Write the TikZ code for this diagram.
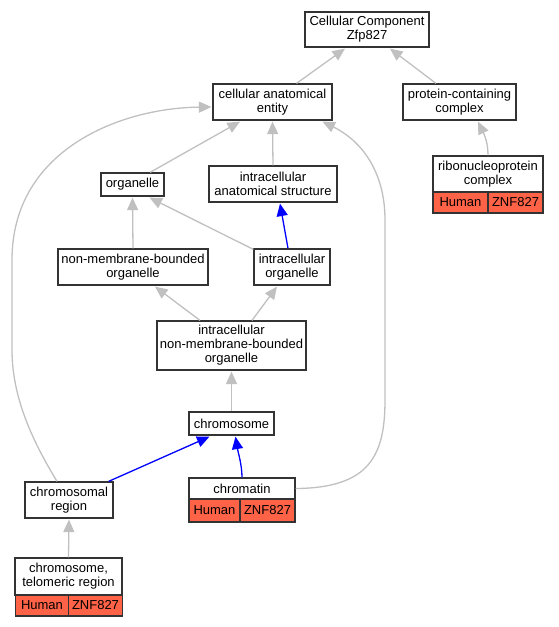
\documentclass[tikz,border=0pt]{standalone}
\usepackage{fontspec}
\setmainfont{Liberation Sans}
\usetikzlibrary{arrows.meta,calc}
\definecolor{tomato}{HTML}{FF6347}
\definecolor{edgegray}{HTML}{C0C0C0}
\definecolor{boxline}{HTML}{333333}
\tikzset{
  box/.style={draw=boxline, line width=1.2pt, fill=white, inner sep=0pt, align=center,
    font=\fontsize{13}{14}\selectfont, anchor=center},
  redcell/.style={box, fill=tomato},
  ge/.style={draw=edgegray, line width=1.3pt, -{Triangle[length=12.5pt,width=11pt]}},
  be/.style={draw=blue, line width=1.3pt, -{Triangle[length=12.5pt,width=11pt]}},
}
\begin{document}
\begin{tikzpicture}[x=1pt,y=-1pt]
\useasboundingbox (0,0) rectangle (559,627);
% nodes
\node[box, minimum width=124pt, minimum height=35pt] (cc) at (367,29.5) {Cellular Component\\Zfp827};
\node[box, minimum width=119pt, minimum height=36pt] (cae) at (272.5,102) {cellular anatomical\\entity};
\node[box, minimum width=113pt, minimum height=36pt] (pcc) at (459.5,102) {protein-containing\\complex};
\node[box, minimum width=110pt, minimum height=36pt] (rnp) at (488,174) {ribonucleoprotein\\complex};
\node[redcell, minimum width=55pt, minimum height=21pt] (rnph) at (460.5,202.5) {Human};
\node[redcell, minimum width=55pt, minimum height=21pt] (rnpz) at (515.5,202.5) {ZNF827};
\node[box, minimum width=63pt, minimum height=23pt] (org) at (132.5,184.5) {organelle};
\node[box, minimum width=128pt, minimum height=36pt] (ias) at (273,184) {intracellular\\anatomical structure};
\node[box, minimum width=150pt, minimum height=36pt] (nmbo) at (133,267) {non-membrane-bounded\\organelle};
\node[box, minimum width=76pt, minimum height=36pt] (io) at (292,267) {intracellular\\organelle};
\node[box, minimum width=149pt, minimum height=49pt] (inmbo) at (231.5,345.5) {intracellular\\non-membrane-bounded\\organelle};
\node[box, minimum width=85pt, minimum height=23pt] (chr) at (231.5,423.5) {chromosome};
\node[box, minimum width=88pt, minimum height=36pt] (chrr) at (69,500) {chromosomal\\region};
\node[box, minimum width=106pt, minimum height=21pt] (chrt) at (242,488.5) {chromatin};
\node[redcell, minimum width=51pt, minimum height=23pt] (chrth) at (214.5,510.5) {Human};
\node[redcell, minimum width=55pt, minimum height=23pt] (chrtz) at (267.5,510.5) {ZNF827};
\node[box, minimum width=107pt, minimum height=37pt] (tel) at (68.5,576.5) {chromosome,\\telomeric region};
\node[redcell, minimum width=53pt, minimum height=21pt] (telh) at (42,605.5) {Human};
\node[redcell, minimum width=54pt, minimum height=21pt] (telz) at (95.5,605.5) {ZNF827};
% edges
\draw[ge] ($(cae.north)+(24,0)$) -- ($(cc.south)+(-22,1)$);
\draw[ge] ($(pcc.north)+(-23.5,0)$) -- ($(cc.south)+(23,1)$);
\draw[ge] (rnp.north) .. controls (488,142) and (484,134) .. ($(pcc.south)+(18.5,1)$);
\draw[ge] ($(org.north)+(17.5,0)$) -- ($(cae.south)+(-32.5,1)$);
\draw[ge] (ias.north) -- ($(cae.south)+(0,1)$);
\draw[ge] (chrt.east) .. controls (370,488) and (385,455) .. (385,400) -- (385,220)
  .. controls (385,170) and (360,140) .. ($(cae.south)+(50,1)$);
\draw[ge] ($(chrr.north)+(-12,0)$) .. controls (35,445) and (12,400) .. (12,350) -- (12,260)
  .. controls (12,150) and (120,108) .. ($(cae.west)+(-1,5)$);
\draw[ge] (nmbo.north) -- ($(org.south)+(0,1)$);
\draw[ge] ($(io.north west)+(0,1)$) -- ($(org.south)+(17,1)$);
\draw[be] ($(io.north)+(-4,0)$) -- ($(ias.south)+(7,1)$);
\draw[ge] ($(inmbo.north)+(-31.5,0)$) -- ($(nmbo.south)+(22,1)$);
\draw[ge] ($(inmbo.north)+(20.5,0)$) -- ($(io.south)+(-15,1)$);
\draw[ge] (chr.north) -- ($(inmbo.south)+(0,1)$);
\draw[be] ($(chrr.north east)+(-5,0)$) -- ($(chr.south)+(-22,1)$);
\draw[be] (chrt.north) .. controls (242,465) and (238,452) .. ($(chr.south)+(4,1)$);
\draw[ge] (tel.north) -- ($(chrr.south)+(0,1)$);
\end{tikzpicture}
\end{document}
